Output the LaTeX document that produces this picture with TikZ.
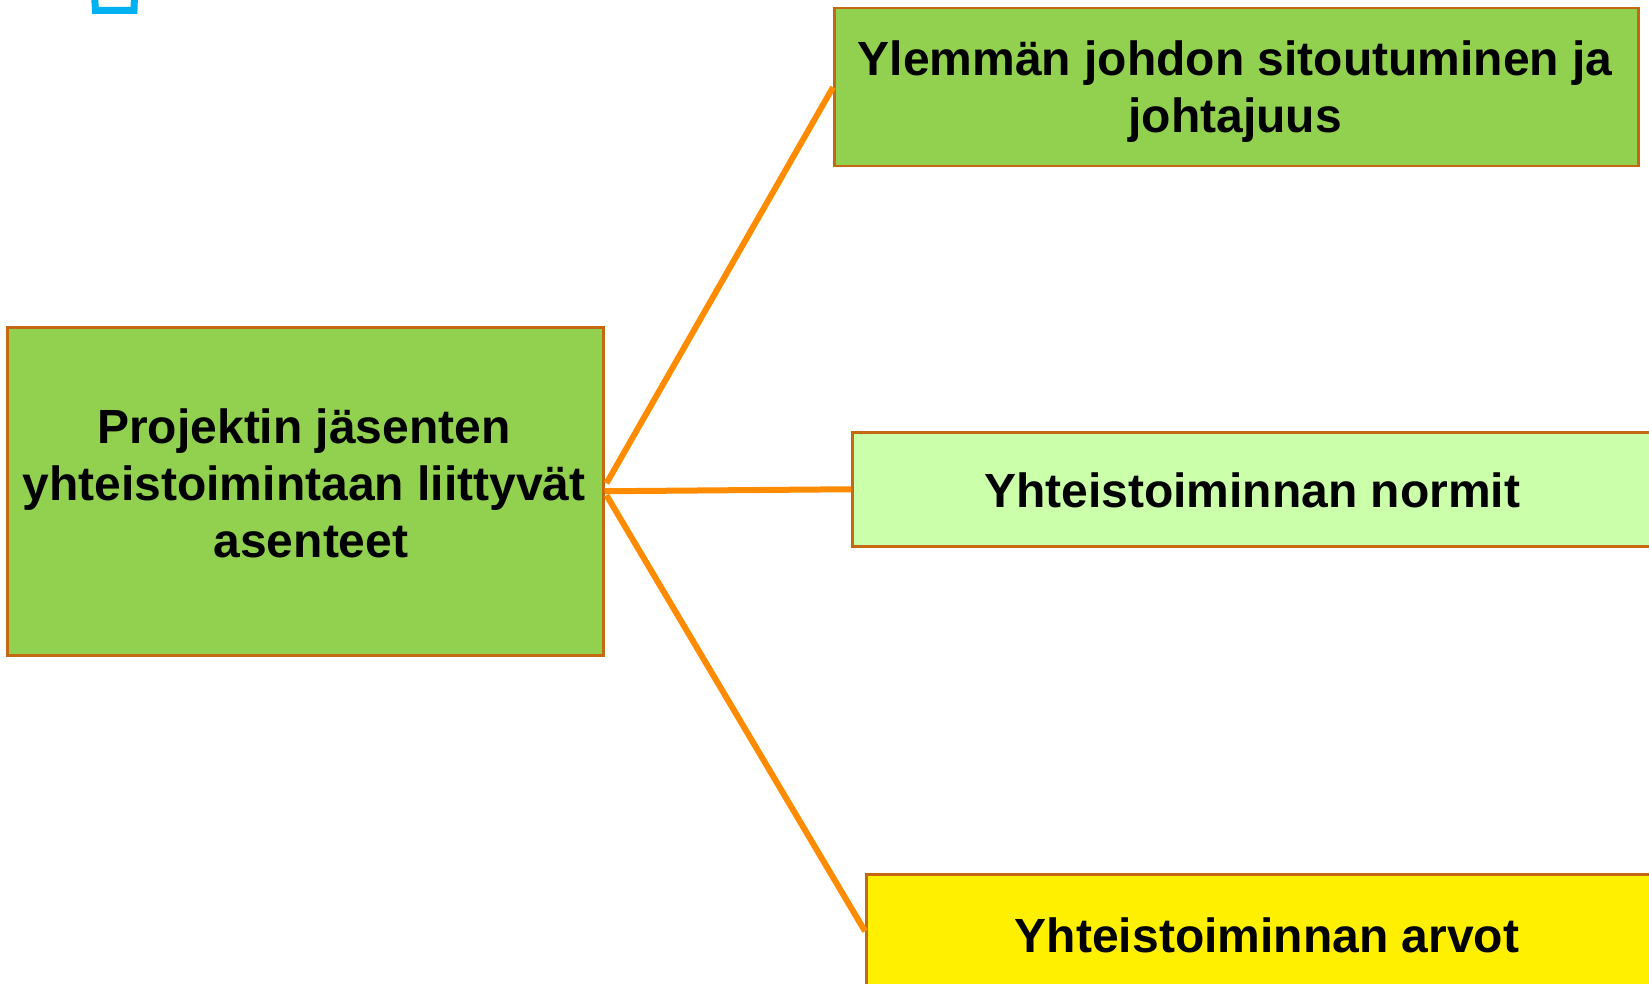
\documentclass[tikz,border=0pt]{standalone}
\usepackage{fontspec}
\setmainfont{Liberation Sans}
\usepackage{tikz}
\usetikzlibrary{positioning}
\definecolor{boxgreen}{RGB}{146,208,80}
\definecolor{palegreen}{RGB}{204,255,170}
\definecolor{boxyellow}{RGB}{255,240,0}
\definecolor{rim}{RGB}{196,104,18}
\definecolor{linkorange}{RGB}{255,140,0}
\definecolor{logoblue}{RGB}{0,176,240}

\begin{document}
\begin{tikzpicture}[x=1pt, y=-1pt,
				box/.style={draw=rim, line width=2.5pt, rectangle, anchor=north west, inner sep=0pt},
				txt/.style={align=center, anchor=base, inner sep=0pt, font=\fontsize{48}{57}\selectfont\bfseries},
				conn/.style={draw=linkorange, line width=6pt}]
				\useasboundingbox (0,0) rectangle (1649,984);
				\draw[logoblue, line width=7pt] (94.5,-5) -- (95.5,10.5) -- (134,10.5) -- (134.5,-5);
				\node at (833,7) (johto) [box, fill=boxgreen, minimum width=804pt, minimum height=158pt] {};
				\node at (6,326) (proj) [box, fill=boxgreen, minimum width=596pt, minimum height=328pt] {};
				\node at (851,431) (normit) [box, fill=palegreen, minimum width=830pt, minimum height=114pt] {};
				\node at (865,873) (arvot) [box, fill=boxyellow, minimum width=820pt, minimum height=114pt] {};
				\node at (1235,133) (johtotext) [txt] {Ylemmän johdon sitoutuminen ja\\johtajuus};
				\node at (304,557) (projtext) [txt] {Projektin jäsenten\\yhteistoimintaan liittyvät\\\hspace*{14pt}asenteet};
				\node at (1252,507) (normittext) [txt] {Yhteistoiminnan normit};
				\node at (1267,952) (arvottext) [txt] {Yhteistoiminnan arvot};
				\draw[conn] ([xshift=2pt, yshift=8pt]proj.east) -- (johto.west);
				\draw[conn] (proj.east) -- (normit.west);
				\draw[conn] ([xshift=2pt, yshift=-4pt]proj.east) -- (arvot.west);
			\end{tikzpicture}
\end{document}
